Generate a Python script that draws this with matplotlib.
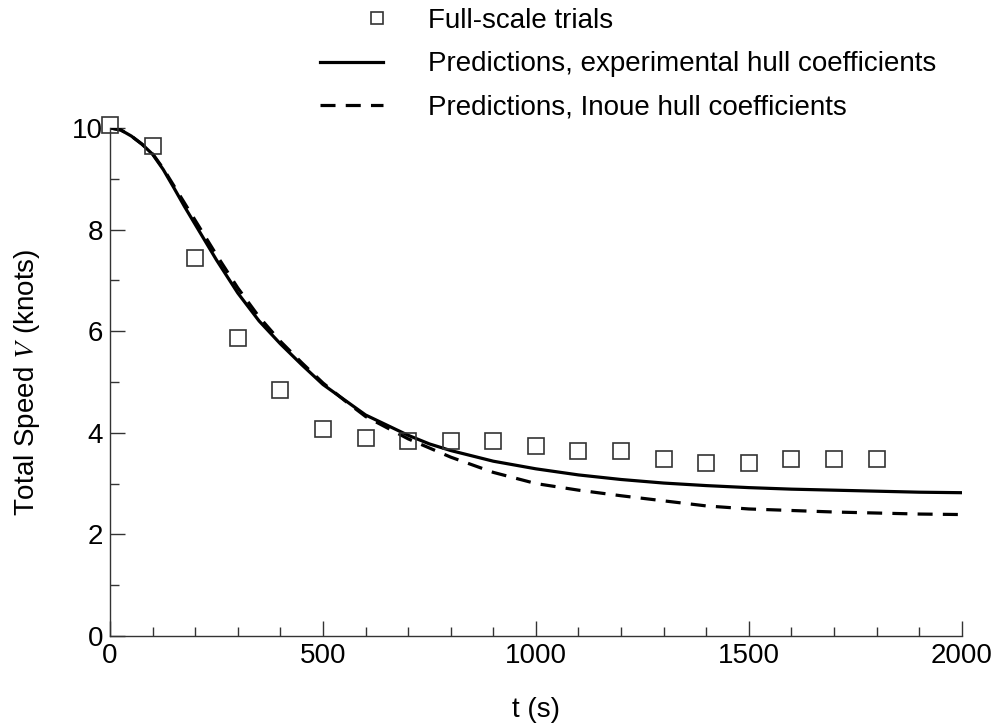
import matplotlib
matplotlib.use('Agg')
import matplotlib.pyplot as plt
import numpy as np
from matplotlib.legend_handler import HandlerLine2D

plt.rcParams['font.family'] = ['Liberation Sans', 'DejaVu Sans']
plt.rcParams['mathtext.fontset'] = 'stix'

# full-scale trial points
t_trial = [0, 100, 200, 300, 400, 500, 600, 700, 800, 900, 1000,
           1100, 1200, 1300, 1400, 1500, 1600, 1700, 1800]
v_trial = [10.05, 9.65, 7.43, 5.87, 4.85, 4.08, 3.9, 3.83, 3.83, 3.83, 3.73,
           3.65, 3.65, 3.48, 3.4, 3.4, 3.48, 3.48, 3.48]

# predictions
t_pred = [0, 25, 50, 75, 100, 125, 150, 175, 200, 250, 300, 350, 400, 450,
          500, 550, 600, 650, 700, 750, 800, 900, 1000, 1100, 1200, 1300,
          1400, 1500, 1600, 1700, 1800, 1900, 2000]
v_exp = [10.0, 9.96, 9.84, 9.68, 9.48, 9.18, 8.82, 8.45, 8.1, 7.4, 6.75,
         6.2, 5.75, 5.34, 4.95, 4.65, 4.35, 4.15, 3.95, 3.78, 3.65, 3.44,
         3.29, 3.17, 3.08, 3.01, 2.96, 2.92, 2.89, 2.87, 2.85, 2.83, 2.82]
v_inoue = [10.0, 9.96, 9.84, 9.68, 9.49, 9.2, 8.86, 8.52, 8.18, 7.5, 6.85,
           6.28, 5.8, 5.38, 4.98, 4.64, 4.32, 4.1, 3.88, 3.7, 3.52, 3.22,
           3.0, 2.87, 2.76, 2.66, 2.56, 2.5, 2.47, 2.44, 2.42, 2.4, 2.39]


class RightMarker(HandlerLine2D):
    # single marker is drawn at the middle of xdata, so shift xdata right
    def get_xdata(self, legend, xdescent, ydescent, width, height, fontsize):
        xdata = np.array([-xdescent + 0.8 * width, -xdescent + width])
        return xdata, np.array([-xdescent + 0.9 * width])


fig = plt.figure(figsize=(9.95, 7.26), dpi=100)
ax = fig.add_axes([0.1106, 0.124, 0.856, 0.6998])

sq, = ax.plot(t_trial, v_trial, 's', ms=11.5, mfc='none', mec='#333333',
              mew=1.2, label='Full-scale trials', clip_on=False, zorder=3)
l1, = ax.plot(t_pred, v_exp, '-', color='black', lw=2.3,
              label='Predictions, experimental hull coefficients')
l2, = ax.plot(t_pred, v_inoue, '--', color='black', lw=2.3, dashes=(4.7, 3.2),
              label='Predictions, Inoue hull coefficients')

ax.set_xlim(0, 2000)
ax.set_ylim(0, 10)
ax.set_xticks([0, 500, 1000, 1500, 2000])
ax.set_xticks(np.arange(0, 2001, 100), minor=True)
ax.set_yticks([0, 2, 4, 6, 8, 10])
ax.set_yticks([1, 3, 5, 7, 9], minor=True)
for s in ['top', 'right']:
    ax.spines[s].set_visible(False)
for s in ['left', 'bottom']:
    ax.spines[s].set_color('#333333')
    ax.spines[s].set_linewidth(1.0)
ax.tick_params(which='major', direction='in', length=10.5, width=1.0,
               color='#333333', labelsize=20, pad=5)
ax.tick_params(which='minor', direction='in', length=6.5, width=1.0,
               color='#333333')

ax.set_xlabel('t (s)', fontsize=20, labelpad=20)
ax.set_ylabel('Total Speed $V$ (knots)', fontsize=20, labelpad=22)

ax.legend(handles=[sq, l1, l2], loc='upper left',
          bbox_to_anchor=(0.3216, 0.989), bbox_transform=fig.transFigure,
          frameon=False, fontsize=20, borderpad=0, borderaxespad=0,
          handlelength=2.27, handletextpad=1.62, labelspacing=0.63,
          markerscale=0.75, numpoints=1,
          handler_map={sq: RightMarker(numpoints=1)})

fig.savefig('out.png', dpi=100)
